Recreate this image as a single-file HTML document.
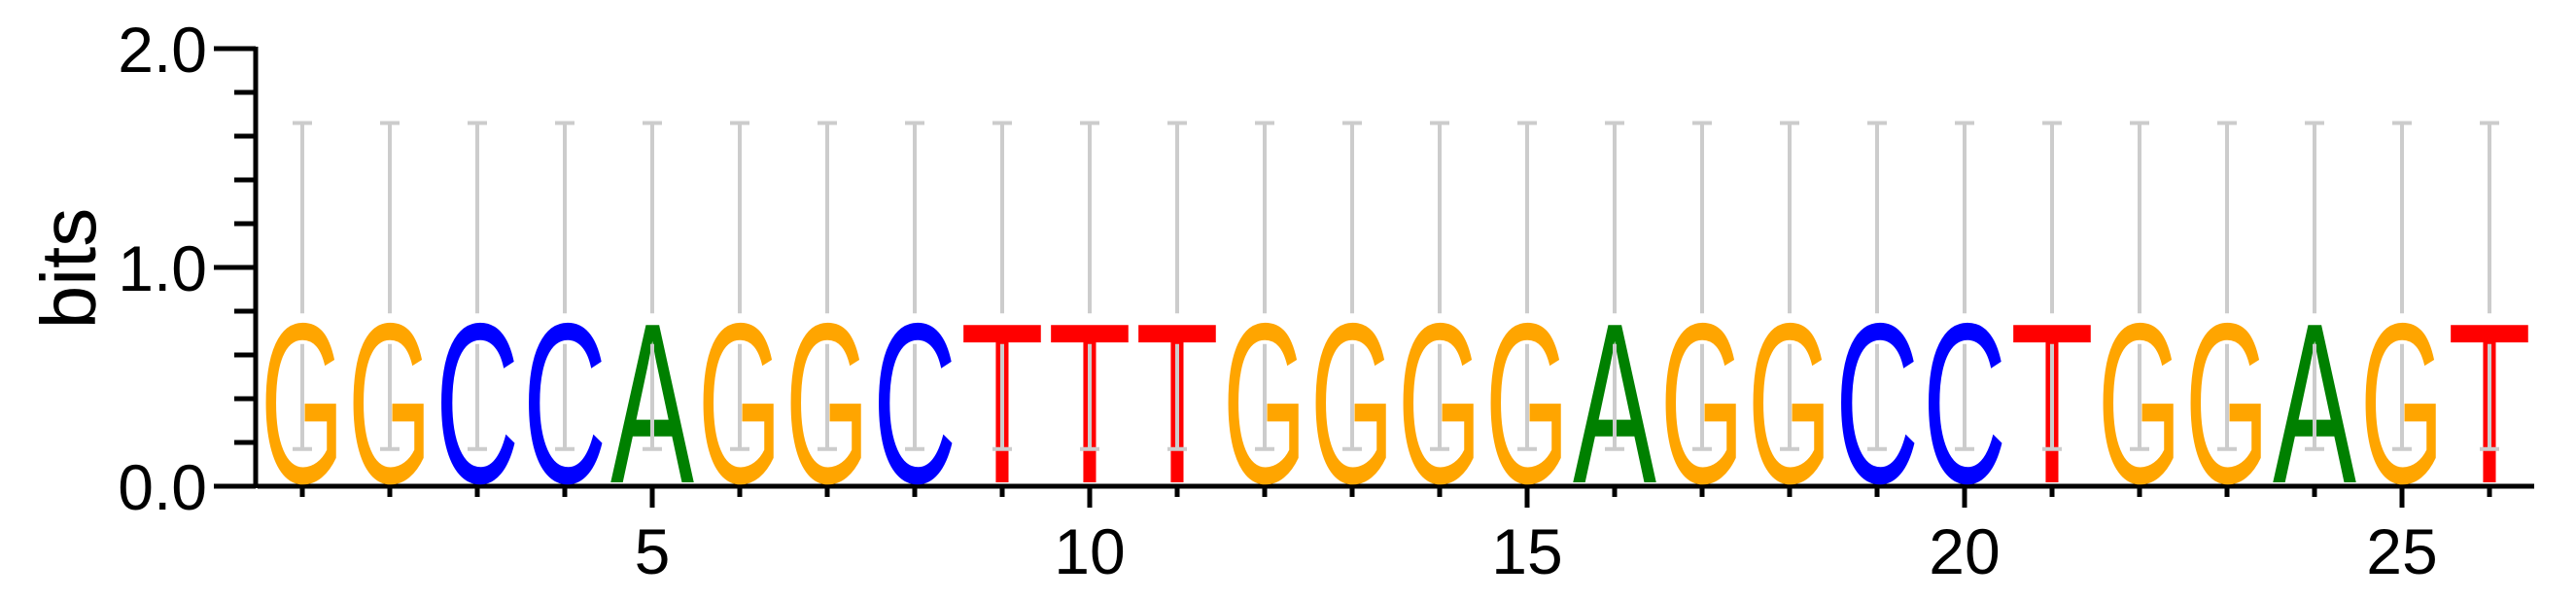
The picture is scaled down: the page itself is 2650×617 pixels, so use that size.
<!DOCTYPE html>
<html><head><meta charset="utf-8"><style>
html,body{margin:0;padding:0;background:#fff;}
svg{display:block;font-family:"Liberation Sans",sans-serif;}
</style></head><body>
<svg id="chart" width="2650" height="617" viewBox="0 0 2650 617" xmlns="http://www.w3.org/2000/svg">
<g id="axes"></g>
<g id="bars"></g>
<g id="letters"></g>
<text x="0" y="0" font-size="80" transform="translate(98,276) rotate(-90)" text-anchor="middle" fill="#000">bits</text>
</svg>
<script>
const positions = [1,2,3,4,5,6,7,8,9,10,11,12,13,14,15,16,17,18,19,20,21,22,23,24,25,26];
const letters = ["G","G","C","C","A","G","G","C","T","T","T","G","G","G","G","A","G","G","C","C","T","G","G","A","G","T"];
const heights = [0.70,0.70,0.70,0.70,0.70,0.70,0.70,0.70,0.70,0.70,0.70,0.70,0.70,0.70,0.70,0.70,0.70,0.70,0.70,0.70,0.70,0.70,0.70,0.70,0.70,0.70];
const errHigh = [1.66,1.66,1.66,1.66,1.66,1.66,1.66,1.66,1.66,1.66,1.66,1.66,1.66,1.66,1.66,1.66,1.66,1.66,1.66,1.66,1.66,1.66,1.66,1.66,1.66,1.66];
const errLow = [0.17,0.17,0.17,0.17,0.17,0.17,0.17,0.17,0.17,0.17,0.17,0.17,0.17,0.17,0.17,0.17,0.17,0.17,0.17,0.17,0.17,0.17,0.17,0.17,0.17,0.17];
const yTicks = [0,0.2,0.4,0.6,0.8,1.0,1.2,1.4,1.6,1.8,2.0];
const yLabels = ["0.0","","","","","1.0","","","","","2.0"];
const xLabelPos = [5,10,15,20,25];

const NS = "http://www.w3.org/2000/svg";
const X = p => 311 + (p - 1) * 90;
const Y = v => 500 - v * 225;
const colors = {A:"#008000", C:"#0000ff", G:"#ffa500", T:"#ff0000"};
function mk(tag, attrs, parent){ const e=document.createElementNS(NS,tag); for(const k in attrs) e.setAttribute(k,attrs[k]); parent.appendChild(e); return e; }
const axes=document.getElementById('axes'), bars=document.getElementById('bars'), lg=document.getElementById('letters');

let el = mk('line',{x1:263,y1:Y(2)-2,x2:263,y2:Y(0)+2,stroke:'#000','stroke-width':5},axes);


el = mk('line',{x1:265,y1:500,x2:2607,y2:500,stroke:'#000','stroke-width':5},axes);



yTicks.forEach((v,i)=>{
  const major = yLabels[i] !== "";
  const t = mk('line',{x1:major?220:241,y1:Y(v),x2:263,y2:Y(v),stroke:'#000','stroke-width':5},axes);
  
  
  if(major){
    const tx = mk('text',{x:213,y:Y(v)+24,'font-size':66,'text-anchor':'end',fill:'#000'},axes);
    tx.textContent = yLabels[i];
    
    
  }
});

positions.forEach((p,i)=>{
  const major = xLabelPos.includes(p);
  const t = mk('line',{x1:X(p),y1:500,x2:X(p),y2:major?522:511,stroke:'#000','stroke-width':5},axes);
  
  
  if(major){
    const tx = mk('text',{x:X(p),y:590,'font-size':66,'text-anchor':'middle',fill:'#000'},axes);
    tx.textContent = String(p);
    
    
  }
  const h = heights[i];
  const capH = h * 225;
  const fs = capH / 0.67;
  const lt = mk('text',{x:X(p)-43,y:496,'font-size':fs.toFixed(1),textLength:86,lengthAdjust:'spacingAndGlyphs',fill:colors[letters[i]]},lg);
  lt.textContent = letters[i];
  
  
  const g = mk('g',{stroke:'#cccccc','stroke-width':4,fill:'none'},bars);
  
  
  mk('line',{x1:X(p),y1:Y(errHigh[i]),x2:X(p),y2:Y(h+0.09)},g);
  mk('line',{x1:X(p),y1:Y(h-0.05),x2:X(p),y2:Y(errLow[i])},g);
  mk('line',{x1:X(p)-10,y1:Y(errHigh[i]),x2:X(p)+10,y2:Y(errHigh[i])},g);
  mk('line',{x1:X(p)-10,y1:Y(errLow[i]),x2:X(p)+10,y2:Y(errLow[i])},g);
});
document.getElementById('chart').appendChild(bars);
</script>
</body></html>
